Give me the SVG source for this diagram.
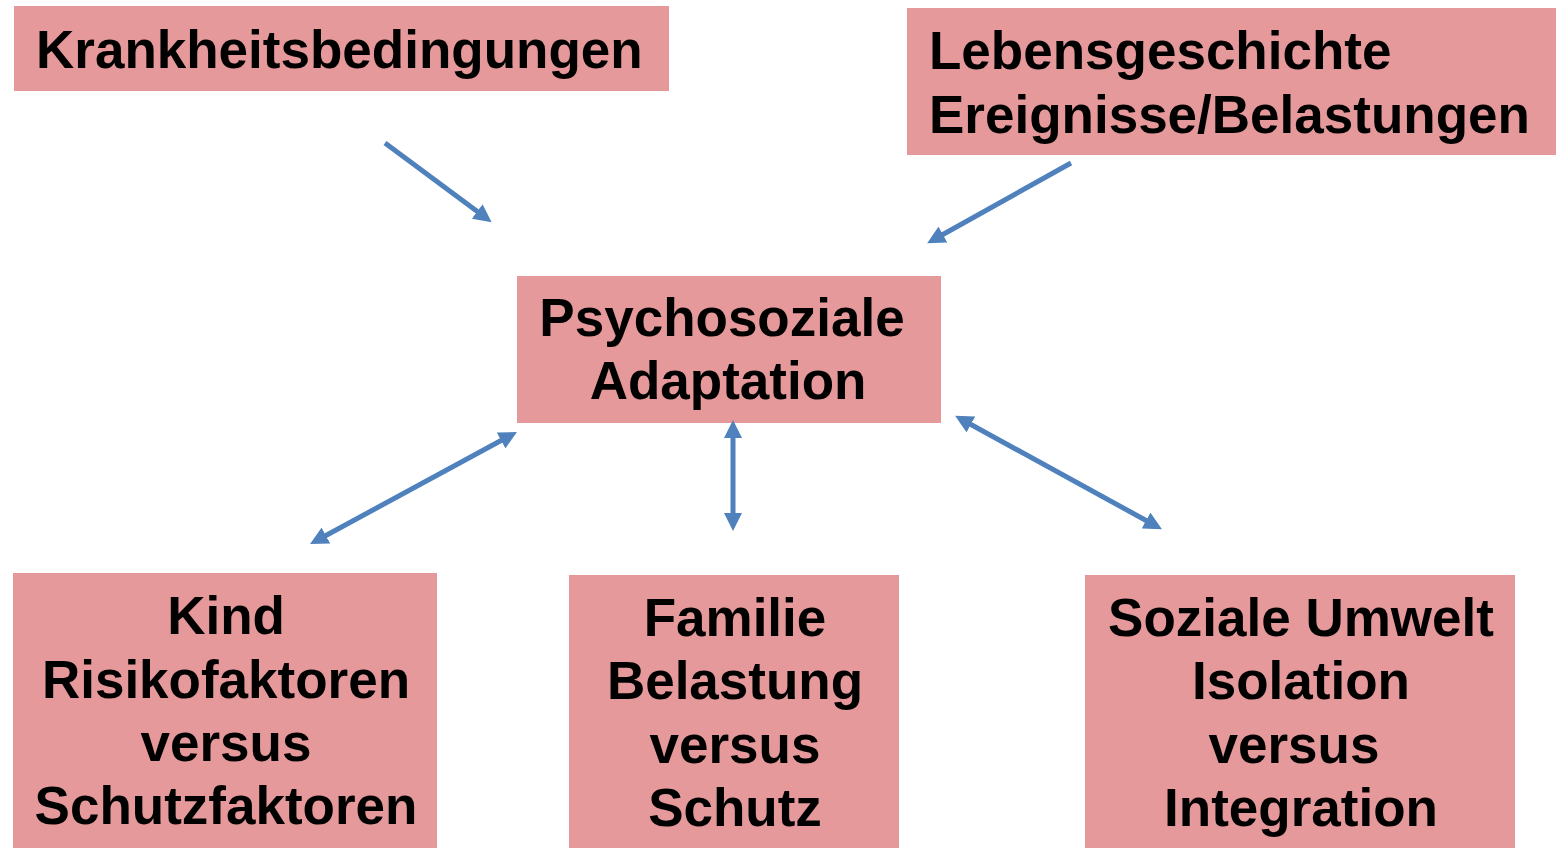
<svg xmlns="http://www.w3.org/2000/svg" width="1558" height="848" viewBox="0 0 1558 848">
<style>
.box{fill:#E6999A;}
.t{font-family:"Liberation Sans",Arial,sans-serif;font-weight:bold;font-size:53px;fill:#000;}
.c{text-anchor:middle;}
.conn{stroke:#4F81BD;stroke-width:5;fill:none;}
</style>
<defs>
<marker id="ah" viewBox="0 0 18 18" refX="1" refY="9" markerWidth="18" markerHeight="18" markerUnits="userSpaceOnUse" orient="auto-start-reverse">
<path d="M0,0 L18,9 L0,18 Z" fill="#4F81BD"/>
</marker>
</defs>
<rect width="1558" height="848" fill="#fff"/>
<g id="krankheit">
<rect class="box" x="14" y="6" width="655" height="85"/>
<text class="t" x="36" y="68">Krankheitsbedingungen</text>
</g>
<g id="lebensgeschichte">
<rect class="box" x="907" y="8" width="649" height="147"/>
<text class="t" x="929" y="69">Lebensgeschichte</text>
<text class="t" x="929" y="133">Ereignisse/Belastungen</text>
</g>
<g id="adaptation">
<rect class="box" x="517" y="276" width="424" height="147"/>
<text class="t c" x="722" y="336">Psychosoziale</text>
<text class="t c" x="728" y="399">Adaptation</text>
</g>
<g id="kind">
<rect class="box" x="13" y="573" width="424" height="275"/>
<text class="t c" x="226" y="634">Kind</text>
<text class="t c" x="226" y="698">Risikofaktoren</text>
<text class="t c" x="226" y="761">versus</text>
<text class="t c" x="226" y="824">Schutzfaktoren</text>
</g>
<g id="familie">
<rect class="box" x="569" y="575" width="330" height="273"/>
<text class="t c" x="735" y="636">Familie</text>
<text class="t c" x="735" y="699">Belastung</text>
<text class="t c" x="735" y="763">versus</text>
<text class="t c" x="735" y="826">Schutz</text>
</g>
<g id="umwelt">
<rect class="box" x="1085" y="575" width="430" height="273"/>
<text class="t c" x="1301" y="636">Soziale Umwelt</text>
<text class="t c" x="1301" y="699">Isolation</text>
<text class="t c" x="1294" y="763">versus</text>
<text class="t c" x="1301" y="826">Integration</text>
</g>
<g id="connectors">
<line class="conn" x1="385" y1="143" x2="478" y2="212" marker-end="url(#ah)"/>
<line class="conn" x1="1071" y1="163" x2="942" y2="235" marker-end="url(#ah)"/>
<line class="conn" x1="502" y1="440" x2="325" y2="536" marker-start="url(#ah)" marker-end="url(#ah)"/>
<line class="conn" x1="733" y1="437" x2="733" y2="514" marker-start="url(#ah)" marker-end="url(#ah)"/>
<line class="conn" x1="970" y1="424" x2="1147" y2="521" marker-start="url(#ah)" marker-end="url(#ah)"/>
</g>
</svg>
